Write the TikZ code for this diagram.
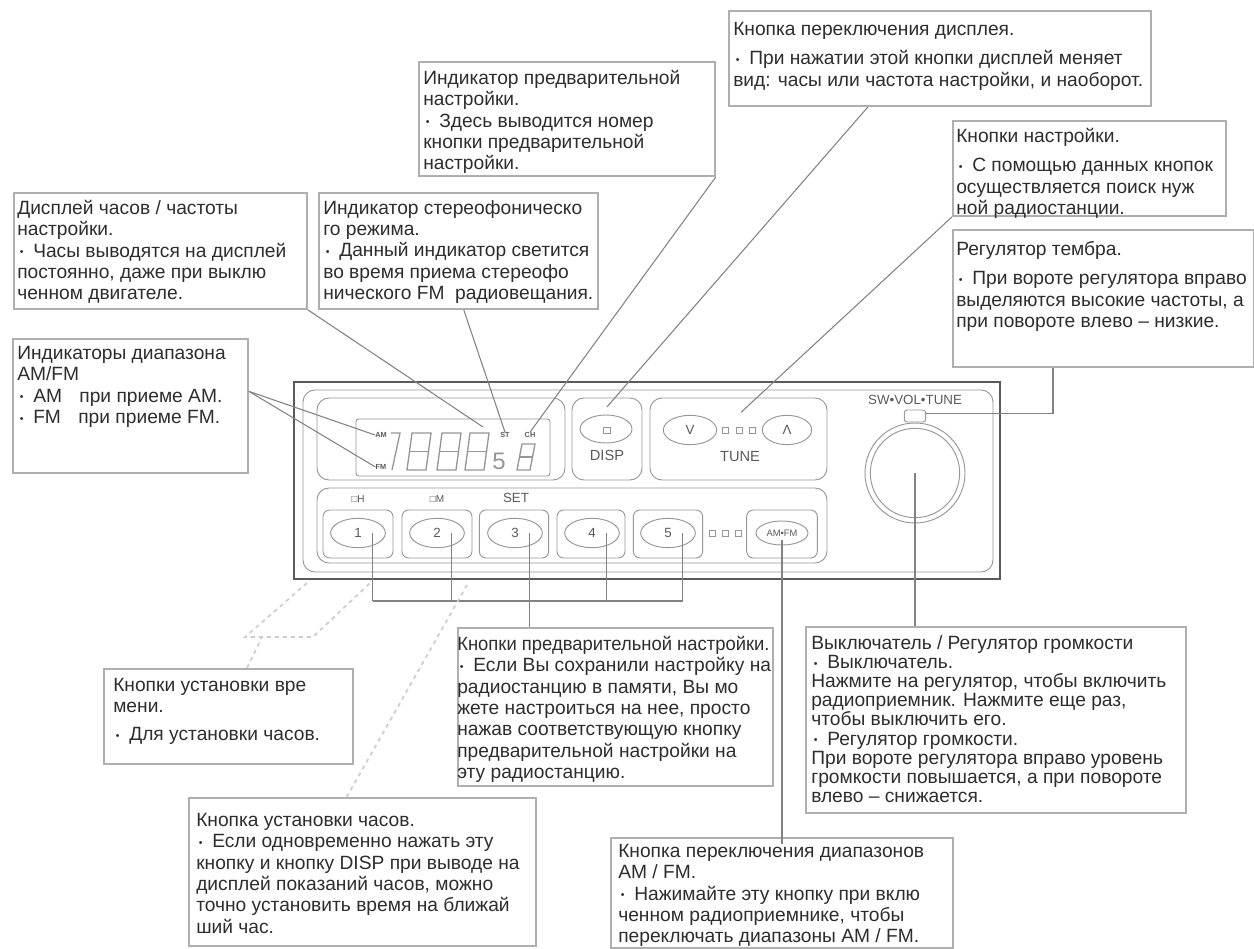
\documentclass[tikz,border=0pt]{standalone}
\usepackage{fontspec}
\setmainfont{Liberation Sans}
\usetikzlibrary{shapes.geometric, positioning, calc}
\definecolor{cText}{RGB}{45,45,45}
\definecolor{cFrame}{RGB}{175,175,175}
\definecolor{cLead}{RGB}{130,130,130}
\definecolor{cPanel}{RGB}{90,90,90}
\definecolor{cPart}{RGB}{150,150,150}
\definecolor{cGhost}{RGB}{205,205,205}
\newcommand{\bul}{\makebox[12pt][l]{\hspace{2pt}\raisebox{0.12ex}{\scalebox{0.55}{\textbullet}}}}
\newcommand{\lcddigit}[4]{%
	\draw[lcdline] (#1+5,#2) -- (#1+5+#3,#2) -- (#1+#3,#2+#4) -- (#1,#2+#4) -- cycle;
	\draw[lcdline] (#1+2.5,#2+#4/2) -- (#1+2.5+#3,#2+#4/2);
}
\tikzset{
	infobox/.style={rectangle, draw=cFrame, line width=1.4pt, anchor=north west, inner sep=0pt},
	boxtxt/.style ={anchor=north west, inner sep=0pt, align=left, text=cText, font=\fontsize{14.4}{16}\selectfont},
	leader/.style ={draw=cLead, line width=0.8pt},
	ghost/.style  ={draw=cGhost, line width=1.3pt, dashed},
	partbox/.style={rectangle, rounded corners=5pt, draw=cPart, line width=0.7pt},
	keycap/.style ={ellipse, draw=cPart, line width=0.7pt, inner sep=0pt, text=cPanel},
	tag/.style    ={inner sep=0pt, text=cPanel},
	lcdline/.style={draw=cPart, line width=1pt},
}
\begin{document}
\begin{tikzpicture}[x=0.75pt, y=-0.75pt]
	\useasboundingbox (0,0) rectangle (1254,949);
	% text boxes
	\node[infobox, minimum width=219.75pt, minimum height=87pt] (clockbox) at (13,192) {};
	\node[boxtxt] (clocktxt) at (17,200) {Дисплей часов / частоты\\настройки.\\\bul Часы выводятся на дисплей\\постоянно, даже при выклю\\ченном двигателе.};
	\node[infobox, minimum width=176.25pt, minimum height=100.5pt] (bandbox) at (12,338) {};
	\node[boxtxt] (bandtxt) at (17,346) {Индикаторы диапазона\\AM/FM\\\bul AM\hspace{13pt}при приеме AM.\\\bul FM\hspace{13pt}при приеме FM.};
	\node[infobox, minimum width=209.25pt, minimum height=87pt] (stereobox) at (318,192) {};
	\node[boxtxt] (stereotxt) at (323,200) {Индикатор стереофоническо\\го режима.\\\bul Данный индикатор светится\\во время приема стереофо\\нического FM\ \ радиовещания.};
	\node[infobox, minimum width=222pt, minimum height=85.5pt] (presetbox) at (418,61) {};
	\node[boxtxt] (presettxt) at (423,70) {Индикатор предварительной\\настройки.\\\bul Здесь выводится номер\\кнопки предварительной\\настройки.};
	\node[infobox, minimum width=316.5pt, minimum height=71.25pt] (dispbox) at (728,10) {};
	\node[boxtxt] (disptxt) at (733,22) {Кнопка переключения дисплея.\\[6pt]\bul При нажатии этой кнопки дисплей меняет\\вид: часы или частота настройки, и наоборот.};
	\node[infobox, minimum width=204.75pt, minimum height=71.25pt] (tunebox) at (952,120) {};
	\node[boxtxt] (tunetxt) at (956,128) {Кнопки настройки.\\[6pt]\bul С помощью данных кнопок\\осуществляется поиск нуж\\ной радиостанции.};
	\node[infobox, minimum width=225.75pt, minimum height=102.75pt] (tonebox) at (952,229) {};
	\node[boxtxt] (tonetxt) at (956,241) {Регулятор тембра.\\[6pt]\bul При вороте регулятора вправо\\выделяются высокие частоты, а\\при повороте влево – низкие.};
	\node[infobox, minimum width=236.25pt, minimum height=118.5pt] (keysbox) at (457,627) {};
	\node[boxtxt] (keystxt) at (457,636) {\scalebox{0.96}[1]{Кнопки предварительной настройки.}\\\bul Если Вы сохранили настройку на\\радиостанцию в памяти, Вы мо\\жете настроиться на нее, просто\\нажав соответствующую кнопку\\предварительной настройки на\\эту радиостанцию.};
	\node[infobox, minimum width=285pt, minimum height=139.5pt] (powerbox) at (805,626) {};
	\node[boxtxt, font=\fontsize{14.4}{14.4}\selectfont] (powertxt) at (811,635) {Выключатель / Регулятор громкости\\\bul Выключатель.\\Нажмите на регулятор, чтобы включить\\радиоприемник. Нажмите еще раз,\\чтобы выключить его.\\\bul Регулятор громкости.\\При вороте регулятора вправо уровень\\громкости повышается, а при повороте\\влево – снижается.};
	\node[infobox, minimum width=256.5pt, minimum height=82.5pt] (modebox) at (610,837) {};
	\node[boxtxt] (modetxt) at (618,844) {Кнопка переключения диапазонов\\AM / FM.\\\bul Нажимайте эту кнопку при вклю\\ченном радиоприемнике, чтобы\\переключать диапазоны AM / FM.};
	\node[infobox, minimum width=186.75pt, minimum height=71.25pt] (timebox) at (103,668) {};
	\node[boxtxt] (timetxt) at (113,678) {Кнопки установки вре\\мени.\\[5pt]\bul Для установки часов.};
	\node[infobox, minimum width=260.25pt, minimum height=111pt] (hourbox) at (188,797) {};
	\node[boxtxt] (hourtxt) at (196,813) {Кнопка установки часов.\\\bul Если одновременно нажать эту\\кнопку и кнопку DISP при выводе на\\дисплей показаний часов, можно\\точно установить время на ближай\\ший час.};
	% radio panel
	\draw[draw=cPanel, line width=1.3pt] (294,382) rectangle (1000,579);
	\draw[partbox, rounded corners=9pt] (303,390) rectangle (993,572);
	\draw[partbox, rounded corners=9pt] (317,398) rectangle (565,480);
	\draw[partbox, rounded corners=9pt] (317,488) rectangle (827,563);
	\draw[partbox, rounded corners=2pt] (356,419) rectangle (550,476);
	\node[partbox, rounded corners=9pt, minimum width=52.5pt, minimum height=61.5pt] (dispcell) at (607,439) {};
	\node[partbox, rounded corners=9pt, minimum width=132.75pt, minimum height=61.5pt] (tunecell) at (738.5,439) {};
	\node[keycap, minimum width=39pt, minimum height=21pt] (dispkey) at (606,429) {};
	\draw[draw=cPart] (603,427) rectangle (610,433);
	\node[tag, font=\fontsize{11}{11}\selectfont] (displabel) at (607,455) {DISP};
	\node[keycap, minimum width=40pt, minimum height=22pt] (downkey) at (690,430) {V};
	\node[keycap, minimum width=37pt, minimum height=22pt] (upkey) at (787,430) {Λ};
	\foreach \x in {725,739,752} \draw[draw=cPart] (\x-3,427) rectangle (\x+3,433);
	\node[tag, font=\fontsize{11}{11}\selectfont] (tunelabel) at (740,457) {TUNE};
	% preset keys
	\foreach \n/\x/\w in {1/358/52.5, 2/437/52.5, 3/514/52, 4/591/51, 5/668/52, 6/782/53} {
		\node[partbox, minimum width=\w pt, minimum height=36pt] (cell\n) at (\x,534) {};
	}
	\foreach \n/\x in {1/358, 2/437, 3/515, 4/592, 5/668}
		\node[keycap, minimum width=41pt, minimum height=22pt, font=\fontsize{10}{10}\selectfont] (key\n) at (\x,533) {\n};
	\node[keycap, minimum width=39pt, minimum height=18pt, font=\fontsize{7}{7}\selectfont] (amkey) at (782,533) {AM•FM};
	\foreach \x in {712,725,738} \draw[draw=cPart] (\x-3,530) rectangle (\x+3,536);
	\node[tag, font=\fontsize{7.5}{7.5}\selectfont] (hlabel) at (358,499) {□H};
	\node[tag, font=\fontsize{7.5}{7.5}\selectfont] (mlabel) at (437,499) {□M};
	\node[tag, font=\fontsize{10}{10}\selectfont] (setlabel) at (516,498) {SET};
	% display
	\node[tag, font=\fontsize{5.5}{5.5}\bfseries] (amlamp) at (381,435) {AM};
	\node[tag, font=\fontsize{5.5}{5.5}\bfseries] (fmlamp) at (381,467) {FM};
	\node[tag, font=\fontsize{5.5}{5.5}\bfseries] (stlamp) at (505,435) {ST};
	\node[tag, font=\fontsize{5.5}{5.5}\bfseries] (chlamp) at (530,435) {CH};
	\draw[lcdline] (391,433) -- (400,433) -- (392,470);
	\lcddigit{407}{433}{19}{37}
	\lcddigit{437}{433}{19}{37}
	\lcddigit{465}{433}{19}{37}
	\node[tag, font=\fontsize{18}{18}\selectfont, text=cPart] (presetnum) at (499,461) {5};
	\lcddigit{517}{444}{13}{26}
	% knob
	\node[tag, font=\fontsize{10}{10}\selectfont] (knoblabel) at (915,400) {SW•VOL•TUNE};
	\node[circle, draw=cPart, line width=0.7pt, minimum size=75pt, inner sep=0pt] (knob) at (915,473) {};
	\node[circle, draw=cPart, line width=0.7pt, minimum size=67pt, inner sep=0pt] (knobcap) at (915,473) {};
	\node[rectangle, rounded corners=2pt, draw=cPart, line width=0.7pt, minimum width=16pt, minimum height=9pt, inner sep=0pt, fill=white] (knobtab) at (915,416) {};
	% leaders
	\coordinate (clockend) at (483,427);
	\draw[leader] (clockbox.south east) -- (clockend);
	\draw[leader] ([yshift=-40pt]bandbox.north east) -- (amlamp.west);
	\draw[leader] ([yshift=-40pt]bandbox.north east) -- (fmlamp.west);
	\draw[leader] ([xshift=4pt]stereobox.south) -- (stlamp.north);
	\draw[leader] (presetbox.south east) -- (chlamp.north);
	\draw[leader] ([xshift=105pt]dispbox.south west) -- ([yshift=-7pt]dispcell.north);
	\draw[leader] (tunebox.south west) -- ([xshift=2pt, yshift=-11pt]tunecell.north);
	\draw[leader] ([xshift=75.75pt]tonebox.south west) |- ([yshift=2pt]knobtab.east);
	\coordinate (bus) at (375,601);
	\foreach \n in {1,...,5} \draw[leader] ([xshift=11pt]key\n.center) -- ([xshift=11pt]key\n.center |- bus);
	\draw[leader] ([xshift=11pt]key1.center |- bus) -- ([xshift=11pt]key5.center |- bus);
	\draw[leader] ([xshift=11pt]key3.center |- bus) -- ([xshift=11pt]key3.center |- keysbox.north);
	\draw[leader] ([yshift=-5pt]amkey.center) -- ([yshift=-5pt]amkey.center |- modebox.north);
	\draw[leader] (knob.center) -- (knob.center |- powerbox.north);
	% set keys
	\coordinate (seta) at (307,583);
	\coordinate (setb) at (370,583);
	\coordinate (setc) at (245,637);
	\coordinate (setd) at (313,637);
	\coordinate (sete) at (467,585);
	\draw[ghost] (seta) -- (setc) -- (setd) -- (setb);
	\draw[ghost] ([xshift=108pt]timebox.north west) -- ($(setc)!0.25!(setd)$);
	\draw[ghost] ([xshift=119pt]hourbox.north west) -- (sete);
\end{tikzpicture}
\end{document}
